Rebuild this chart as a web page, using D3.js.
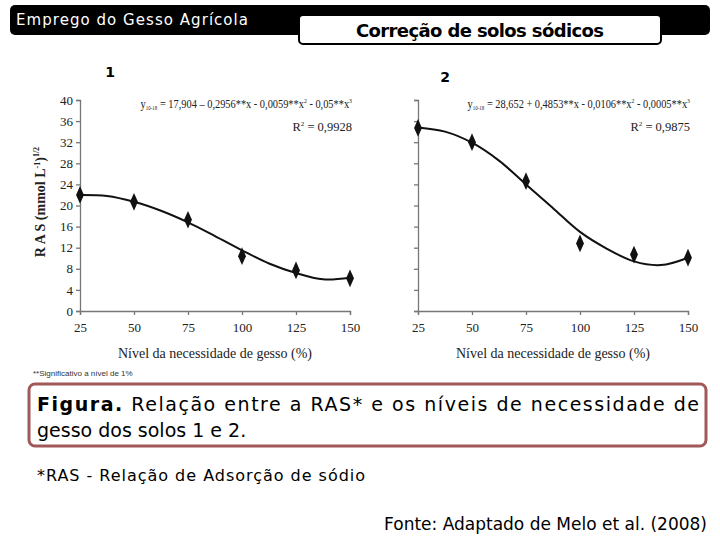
<!DOCTYPE html>
<html>
<head>
<meta charset="utf-8">
<script src="https://cdn.jsdelivr.net/npm/d3@7"></script>
<style>
  body { margin: 0; background: #fff; }
  svg { display: block; }
  .serif { font-family: "Liberation Serif", "DejaVu Serif", serif; }
  .hand { font-family: "DejaVu Sans", "Noto Sans", sans-serif; }
</style>
</head>
<body>
<div id="chart"></div>
<script>
// niveis de gesso (%)
var levels = [25, 50, 75, 100, 125, 150];
var xTicks = [25, 50, 75, 100, 125, 150];
var yTicks = [0, 4, 8, 12, 16, 20, 24, 28, 32, 36, 40];

// RAS observada
var rasSolo1 = [22.0, 20.7, 17.3, 10.4, 7.7, 6.2];
var rasSolo2 = [34.7, 32.0, 24.6, 12.8, 10.7, 10.1];

// curva ajustada
var curveX = [25, 37.5, 50, 62.5, 75, 87.5, 100, 112.5, 125, 137.5, 150];
var curveSolo1 = [22.0, 21.8, 20.7, 19.0, 16.8, 14.2, 11.5, 9.0, 7.2, 6.0, 6.3];
var curveSolo2 = [34.8, 34.0, 31.9, 28.5, 24.0, 19.5, 15.0, 11.8, 9.4, 8.7, 10.1];

var eqSolo1 = ["y", "10-18", " = 17,904 \u2013 0,2956**x - 0,0059**x", "2", " - 0,05**x", "3"];
var eqSolo2 = ["y", "10-18", " = 28,652 + 0,4853**x - 0,0106**x", "2", " - 0,0005**x", "3"];
var r2Solo1 = "0,9928";
var r2Solo2 = "0,9875";

var W = 720, H = 540;
var svg = d3.select("#chart").append("svg").attr("width", W).attr("height", H);

// cabecalho
svg.append("rect").attr("x", 10).attr("y", 5).attr("width", 700).attr("height", 30)
  .attr("rx", 5).attr("fill", "#000");
svg.append("text").attr("class", "hand").attr("x", 16).attr("y", 25)
  .attr("fill", "#fff").attr("font-size", 15).attr("textLength", 232).text("Emprego do Gesso Agrícola");
svg.append("rect").attr("x", 299).attr("y", 15).attr("width", 362).attr("height", 29)
  .attr("rx", 4).attr("fill", "#fff").attr("stroke", "#000").attr("stroke-width", 2);
svg.append("text").attr("class", "hand").attr("x", 480).attr("y", 37)
  .attr("text-anchor", "middle").attr("font-size", 18).attr("font-weight", "bold")
  .attr("textLength", 248).text("Correção de solos sódicos");
svg.append("text").attr("class", "hand").attr("x", 110).attr("y", 77)
  .attr("text-anchor", "middle").attr("font-size", 14).attr("font-weight", "bold").text("1");
svg.append("text").attr("class", "hand").attr("x", 445).attr("y", 82)
  .attr("text-anchor", "middle").attr("font-size", 14).attr("font-weight", "bold").text("2");

function drawPanel(x0, x1, obs, curve, eq, r2, showY) {
  var x = d3.scaleLinear().domain([25, 150]).range([x0, x1]);
  var y = d3.scaleLinear().domain([0, 40]).range([311, 100]);
  var g = svg.append("g");

  var yAxis = d3.axisLeft(y).tickValues(yTicks).tickSize(4).tickPadding(3)
    .tickFormat(showY ? d3.format("d") : "");
  var ga = g.append("g").attr("transform", "translate(" + x0 + ",0)").call(yAxis);
  var xAxis = d3.axisBottom(x).tickValues(xTicks).tickSize(4).tickPadding(8);
  var gx = g.append("g").attr("transform", "translate(0,311)").call(xAxis);
  [ga, gx].forEach(function(a) {
    a.selectAll("path, line").attr("stroke", "#777").attr("stroke-width", 1.3);
    a.selectAll("text").attr("class", "serif").attr("font-size", 13).attr("fill", "#222");
  });

  var line = d3.line().x(function(d, i) { return x(curveX[i]); })
    .y(function(d) { return y(d); }).curve(d3.curveCatmullRom);
  g.append("path").datum(curve).attr("d", line).attr("fill", "none")
    .attr("stroke", "#111").attr("stroke-width", 2);

  g.selectAll(".pt").data(obs).enter().append("path")
    .attr("d", d3.symbol().type(d3.symbolDiamond).size(75))
    .attr("transform", function(d, i) { return "translate(" + x(levels[i]) + "," + y(d) + ") scale(0.85,1.1)"; })
    .attr("fill", "#111");

  // equacao, comprimida na horizontal como no original
  var eg = g.append("g").attr("transform", "translate(" + (x1 + 2) + ",108) scale(0.83,1)");
  var t = eg.append("text").attr("class", "serif").attr("x", 0).attr("y", 0)
    .attr("text-anchor", "end").attr("font-size", 12.5).attr("fill", "#222");
  t.append("tspan").text(eq[0]);
  t.append("tspan").attr("font-size", 6).attr("dy", 2).text(eq[1]);
  t.append("tspan").attr("dy", -2).text(eq[2]);
  t.append("tspan").attr("font-size", 7).attr("dy", -5).text(eq[3]);
  t.append("tspan").attr("dy", 5).text(eq[4]);
  t.append("tspan").attr("font-size", 7).attr("dy", -5).text(eq[5]);

  var r = g.append("text").attr("class", "serif").attr("x", x1 + 2).attr("y", 131)
    .attr("text-anchor", "end").attr("font-size", 12.5).attr("fill", "#222");
  r.append("tspan").text("R");
  r.append("tspan").attr("font-size", 7).attr("dy", -5).text("2");
  r.append("tspan").attr("dy", 5).text(" = " + r2);

  g.append("text").attr("class", "serif").attr("x", (x0 + x1) / 2).attr("y", 358)
    .attr("text-anchor", "middle").attr("font-size", 14).attr("fill", "#222")
    .text("Nível da necessidade de gesso (%)");
}

drawPanel(80, 350, rasSolo1, curveSolo1, eqSolo1, r2Solo1, true);
drawPanel(418, 688, rasSolo2, curveSolo2, eqSolo2, r2Solo2, false);

// rotulo eixo y
var yl = svg.append("text").attr("class", "serif").attr("transform", "translate(45,202) rotate(-90)")
  .attr("text-anchor", "middle").attr("font-size", 14).attr("font-weight", "bold").attr("fill", "#222");
yl.append("tspan").text("R A S (mmol L");
yl.append("tspan").attr("font-size", 8).attr("dy", -5).text("-1");
yl.append("tspan").attr("dy", 5).text(")");
yl.append("tspan").attr("font-size", 8).attr("dy", -6).text("1/2");

svg.append("text").attr("x", 33).attr("y", 376).attr("font-family", "Liberation Sans Narrow, Liberation Sans, sans-serif")
  .attr("font-size", 8).attr("fill", "#333").text("**Significativo a nível de 1%");

// legenda
svg.append("rect").attr("x", 29).attr("y", 384).attr("width", 677).attr("height", 62)
  .attr("rx", 6).attr("fill", "#fff").attr("stroke", "#a05858").attr("stroke-width", 3);
var c1 = svg.append("text").attr("class", "hand").attr("x", 37).attr("y", 411)
  .attr("font-size", 19).attr("textLength", 662).attr("lengthAdjust", "spacing");
c1.append("tspan").attr("font-weight", "bold").text("Figura.");
c1.append("tspan").text(" Relação entre a RAS* e os níveis de necessidade de");
svg.append("text").attr("class", "hand").attr("x", 37).attr("y", 437)
  .attr("font-size", 19).text("gesso dos solos 1 e 2.");

svg.append("text").attr("class", "hand").attr("x", 37).attr("y", 481)
  .attr("font-size", 16).attr("textLength", 328).text("*RAS  - Relação de  Adsorção de sódio");
svg.append("text").attr("class", "hand").attr("x", 707).attr("y", 530)
  .attr("text-anchor", "end").attr("font-size", 17).text("Fonte: Adaptado de Melo et al. (2008)");
</script>
</body>
</html>
